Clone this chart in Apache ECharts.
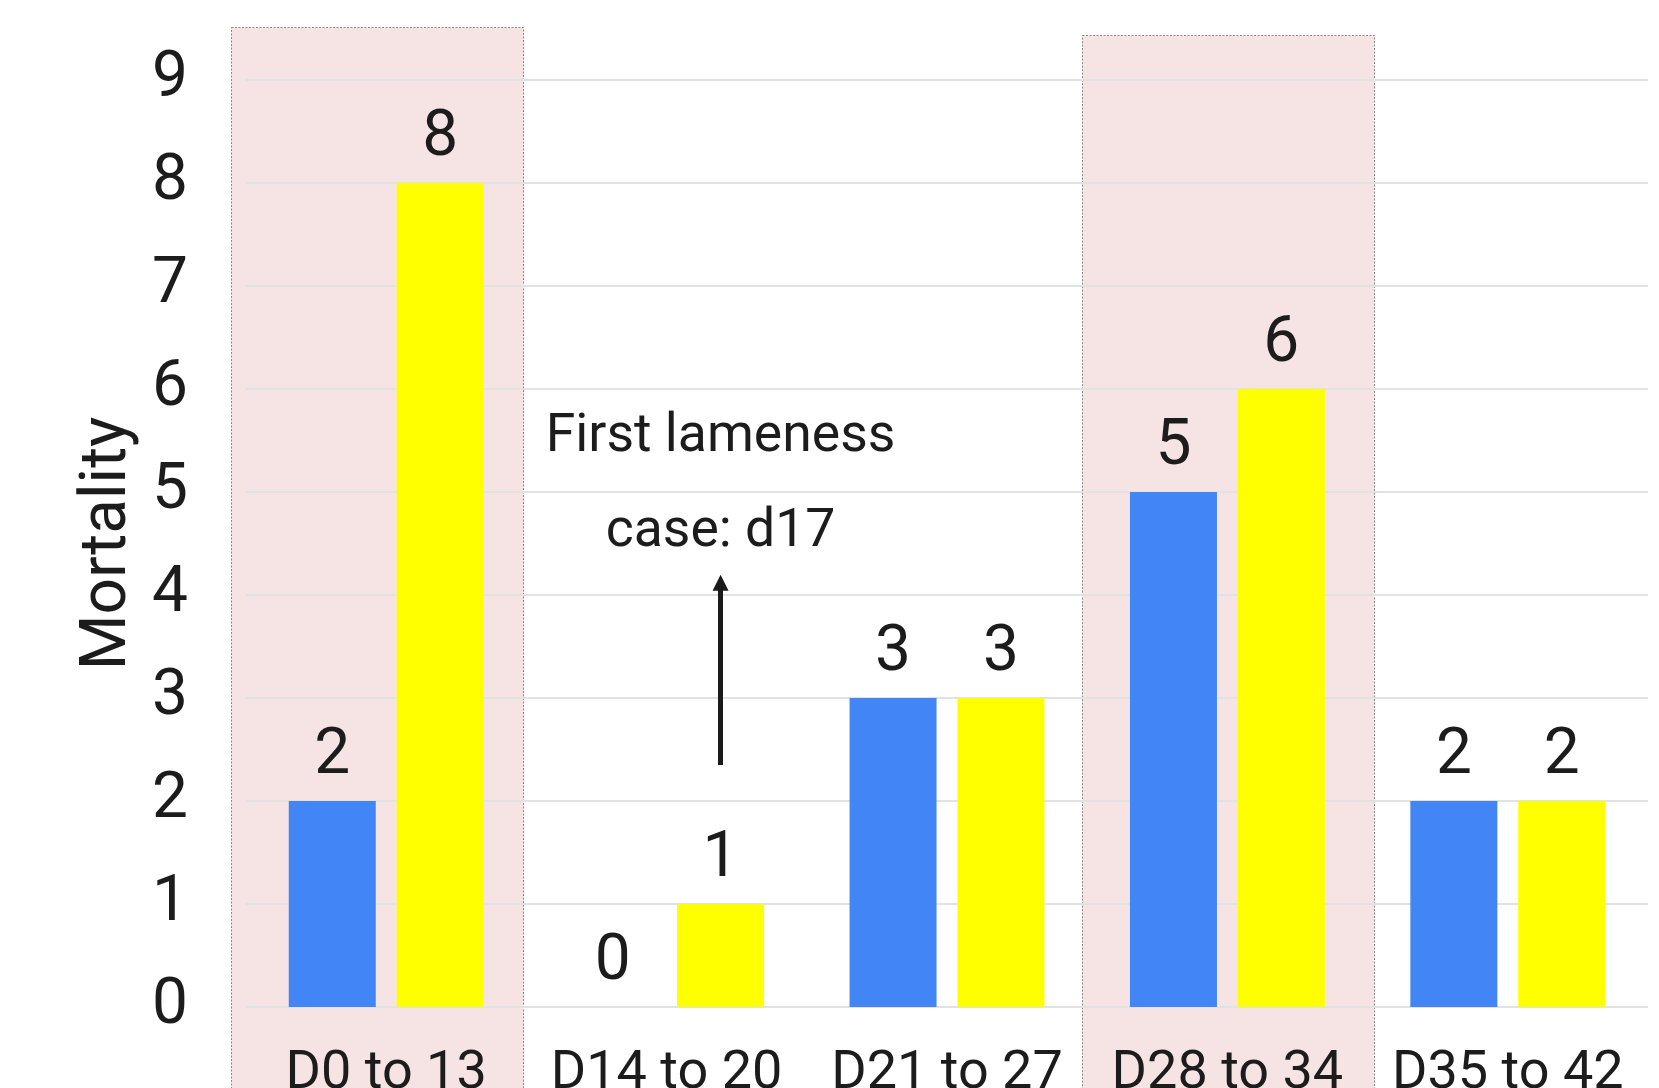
<!DOCTYPE html>
<html>
<head>
<meta charset="utf-8">
<script src="https://cdn.jsdelivr.net/npm/echarts@6/dist/echarts.min.js"></script>
<style>
html,body{margin:0;padding:0;background:#fff;}
#chart{width:1659px;height:1088px;}
</style>
</head>
<body>
<div id="chart"></div>
<script>
// ---- data ----
const categories = ['D0 to 13', 'D14 to 20', 'D21 to 27', 'D28 to 34', 'D35 to 42'];
const blueValues = [2, 0, 3, 5, 2];
const yellowValues = [8, 1, 3, 6, 2];
const yTicks = [0, 1, 2, 3, 4, 5, 6, 7, 8, 9];
const yAxisName = 'Mortality';
// highlighted periods: [start, end] in category units, and top value
const bandStart = [-0.053, 2.98];
const bandEnd = [0.989, 4.022];
const bandTop = [9.51, 9.44];
// annotation (arrow on the D14 to 20 yellow bar)
const annotCategory = 'D14 to 20';
const arrowFrom = 2.35;
const arrowTo = 4.12;
const annotLines = ['First lameness', 'case: d17'];

const textColor = '#1c1c1c';
const FONT = 'Roboto';

const bandData = bandStart.map((s, i) => [s, bandEnd[i], bandTop[i]]);

const chart = echarts.init(document.getElementById('chart'), null, {renderer: 'canvas'});
chart.setOption({
  animation: false,
  backgroundColor: '#ffffff',
  textStyle: {fontFamily: FONT},
  grid: {left: 246, right: 11, top: 80, bottom: 81, containLabel: false, outerBoundsMode: 'none'},
  xAxis: [{
    type: 'category',
    data: categories,
    axisLine: {show: false},
    axisTick: {show: false},
    axisLabel: {fontSize: 54, color: textColor, margin: 40, fontFamily: FONT, interval: 0},
    splitLine: {show: false}
  }, {
    type: 'value', min: 0, max: 5, show: false
  }],
  yAxis: {
    type: 'value',
    min: yTicks[0],
    max: yTicks[yTicks.length - 1],
    interval: 1,
    name: yAxisName,
    nameLocation: 'middle',
    nameGap: 104,
    nameTextStyle: {fontSize: 64, color: textColor, fontFamily: FONT},
    axisLine: {show: false},
    axisTick: {show: false},
    axisLabel: {fontSize: 64, color: textColor, margin: 58, fontFamily: FONT},
    splitLine: {lineStyle: {color: '#e2e2e2', width: 2}}
  },
  series: [
    {
      type: 'custom',
      xAxisIndex: 1,
      yAxisIndex: 0,
      z: -1,
      silent: true,
      clip: false,
      data: bandData,
      encode: {x: [0, 1], y: 2},
      renderItem: function (params, api) {
        const p0 = api.coord([api.value(0), api.value(2)]);
        const p1 = api.coord([api.value(1), 0]);
        return {
          type: 'rect',
          shape: {x: Math.round(p0[0]) + 0.5, y: Math.round(p0[1]) + 0.5, width: Math.round(p1[0] - p0[0]), height: api.getHeight() - p0[1] + 20},
          style: {fill: '#f6e4e4', stroke: '#8c8587', lineWidth: 1, lineDash: [2, 1.5]}
        };
      }
    },
    {
      type: 'bar',
      data: blueValues,
      barWidth: 87,
      barGap: '24%',
      itemStyle: {color: '#4285f4'},
      label: {show: true, position: 'top', distance: 12, fontSize: 64, color: textColor, fontFamily: FONT}
    },
    {
      type: 'bar',
      data: yellowValues,
      barWidth: 87,
      itemStyle: {color: '#ffff00'},
      label: {show: true, position: 'top', distance: 12, fontSize: 64, color: textColor, fontFamily: FONT},
      markLine: {
        silent: true,
        symbol: ['none', 'triangle'],
        symbolSize: [16, 16],
        precision: 2,
        lineStyle: {color: '#1a1a1a', width: 5, type: 'solid'},
        label: {
          show: true,
          position: 'end',
          distance: 3,
          formatter: annotLines.join('\n'),
          fontSize: 53.5,
          lineHeight: 95,
          color: textColor,
          fontFamily: FONT,
          align: 'center'
        },
        data: [[{coord: [annotCategory, arrowFrom]}, {coord: [annotCategory, arrowTo]}]]
      }
    }
  ]
});
</script>
</body>
</html>
